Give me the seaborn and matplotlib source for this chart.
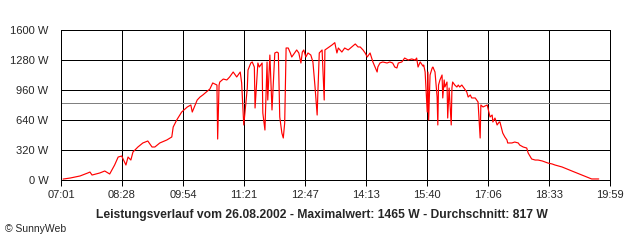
import matplotlib
matplotlib.use("Agg")
import matplotlib.pyplot as plt
import seaborn as sns
import pandas as pd
import numpy as np

# ---- data ----
times = [
    "07:04", "07:14", "07:28", "07:39", "07:42", "07:45", "07:56", "08:03", "08:10", "08:17",
    "08:22", "08:27", "08:33", "08:36", "08:40", "08:43", "08:50", "08:57", "09:04", "09:10",
    "09:14", "09:21", "09:31", "09:38", "09:40", "09:45", "09:52", "10:00", "10:05", "10:07",
    "10:14", "10:18", "10:22", "10:32", "10:36", "10:42", "10:43", "10:45", "10:46", "10:51",
    "10:56", "11:00", "11:05", "11:10", "11:15", "11:17", "11:20", "11:25", "11:26", "11:30",
    "11:32", "11:35", "11:36", "11:40", "11:42", "11:46", "11:47", "11:50", "11:53", "11:54",
    "11:57", "12:00", "12:04", "12:07", "12:09", "12:11", "12:14", "12:16", "12:18", "12:20",
    "12:23", "12:26", "12:28", "12:33", "12:35", "12:38", "12:41", "12:43", "12:45", "12:48",
    "12:51", "12:55", "12:58", "13:01", "13:04", "13:05", "13:07", "13:11", "13:14", "13:15",
    "13:19", "13:25", "13:29", "13:32", "13:34", "13:39", "13:43", "13:48", "13:53", "13:58",
    "14:02", "14:05", "14:09", "14:12", "14:15", "14:19", "14:23", "14:26", "14:29", "14:30",
    "14:33", "14:37", "14:43", "14:47", "14:51", "14:54", "14:57", "14:59", "15:04", "15:08",
    "15:13", "15:18", "15:23", "15:25", "15:27", "15:30", "15:34", "15:35", "15:37", "15:40",
    "15:41", "15:42", "15:44", "15:47", "15:48", "15:51", "15:54", "15:55", "15:56", "15:58",
    "16:01", "16:02", "16:04", "16:05", "16:08", "16:09", "16:11", "16:14", "16:15", "16:16",
    "16:19", "16:22", "16:24", "16:26", "16:29", "16:32", "16:36", "16:38", "16:41", "16:43",
    "16:48", "16:52", "16:55", "16:56", "16:59", "17:05", "17:06", "17:09", "17:12", "17:13",
    "17:16", "17:19", "17:22", "17:23", "17:26", "17:27", "17:30", "17:33", "17:34", "17:40",
    "17:44", "17:49", "17:51", "17:56", "18:01", "18:03", "18:08", "18:13", "18:17", "18:23",
    "18:27", "18:31", "18:37", "18:41", "18:51", "18:58", "19:05", "19:12", "19:19", "19:26",
    "19:33", "19:43",
]
watts = [
    10, 21, 43, 75, 85, 53, 75, 96, 64, 160,
    245, 256, 160, 245, 213, 299, 352, 395, 416, 352,
    352, 395, 427, 459, 565, 640, 725, 779, 800, 725,
    853, 885, 907, 971, 1035, 1013, 437, 1013, 1045, 1077,
    1067, 1099, 1152, 1099, 1152, 1035, 587, 981, 1173, 1248,
    1259, 1205, 768, 1248, 1205, 1248, 715, 533, 1259, 853,
    1333, 747, 1355, 1365, 1355, 672, 501, 448, 608, 1408,
    1408, 1355, 1312, 1365, 1387, 1355, 1248, 1365, 1387, 1312,
    1355, 1333, 1259, 992, 693, 928, 1355, 1387, 853, 1387,
    1408, 1440, 1465, 1355, 1408, 1365, 1408, 1387, 1419, 1451,
    1419, 1419, 1387, 1355, 1312, 1355, 1259, 1205, 1152, 1205,
    1248, 1259, 1248, 1259, 1248, 1205, 1195, 1248, 1259, 1301,
    1280, 1291, 1280, 1301, 1205, 1259, 1215, 1227, 1152, 725,
    1152, 640, 1120, 1195, 1205, 1152, 885, 587, 1013, 1067,
    1120, 875, 1067, 992, 1045, 661, 981, 587, 981, 1045,
    1013, 992, 1013, 992, 1013, 981, 939, 885, 907, 875,
    875, 832, 448, 800, 779, 800, 768, 672, 693, 619,
    661, 587, 619, 619, 533, 501, 459, 427, 395, 395,
    405, 395, 373, 352, 341, 288, 224, 213, 213, 203,
    192, 181, 171, 160, 139, 117, 96, 75, 53, 32,
    11, 11,
]
x_tick_labels = ["07:01", "08:28", "09:54", "11:21", "12:47",
                 "14:13", "15:40", "17:06", "18:33", "19:59"]
y_ticks = [0, 320, 640, 960, 1280, 1600]
average_w = 817
maximum_w = 1465
date_str = "26.08.2002"


def to_min(s):
    h, m = s.split(":")
    return int(h) * 60 + int(m)


df = pd.DataFrame({"t": [to_min(s) for s in times], "w": watts})

sns.set_style("white")
plt.rcParams["font.family"] = ["Liberation Sans", "DejaVu Sans"]

fig = plt.figure(figsize=(6.4, 2.4), dpi=100)
ax = fig.add_axes([61 / 640, 60 / 240, 549 / 640, 150 / 240])

x0, x1 = to_min(x_tick_labels[0]), to_min(x_tick_labels[-1])
xt = np.linspace(x0, x1, len(x_tick_labels))

LW = 0.72  # one pixel at 100 dpi

ax.axhline(average_w, color="#808080", linewidth=LW, zorder=2, antialiased=False)
sns.lineplot(data=df, x="t", y="w", color="#ff0000", linewidth=0.85, ax=ax,
             zorder=3)

ax.set_xlim(x0, x1)
ax.set_ylim(0, 1600)
ax.set_xticks(xt)
ax.set_xticklabels(x_tick_labels)
ax.set_yticks(y_ticks)
ax.set_yticklabels([f"{v} W" for v in y_ticks])
ax.set_xlabel("")
ax.set_ylabel("")

ax.set_axisbelow(True)
ax.grid(True, color="black", linewidth=LW, antialiased=False)
for s in ax.spines.values():
    s.set_color("black")
    s.set_linewidth(LW)
    s.set_antialiased(False)
    s.set_visible(True)

ax.tick_params(axis="x", length=4.5, width=LW, color="black", pad=3,
               labelsize=8, direction="out", bottom=True)
ax.tick_params(axis="y", length=0, pad=9, labelsize=8)

title = (f"Leistungsverlauf vom {date_str} - Maximalwert: {maximum_w} W - "
         f"Durchschnitt: {average_w} W")
fig.text(322 / 640, 1 - 215 / 240, title, ha="center", va="center",
         fontsize=8.7, fontweight="bold")
fig.text(5 / 640, 1 - 229 / 240, "\u00a9 SunnyWeb", ha="left", va="center",
         fontsize=7.5)

fig.savefig("out.png", dpi=100)
